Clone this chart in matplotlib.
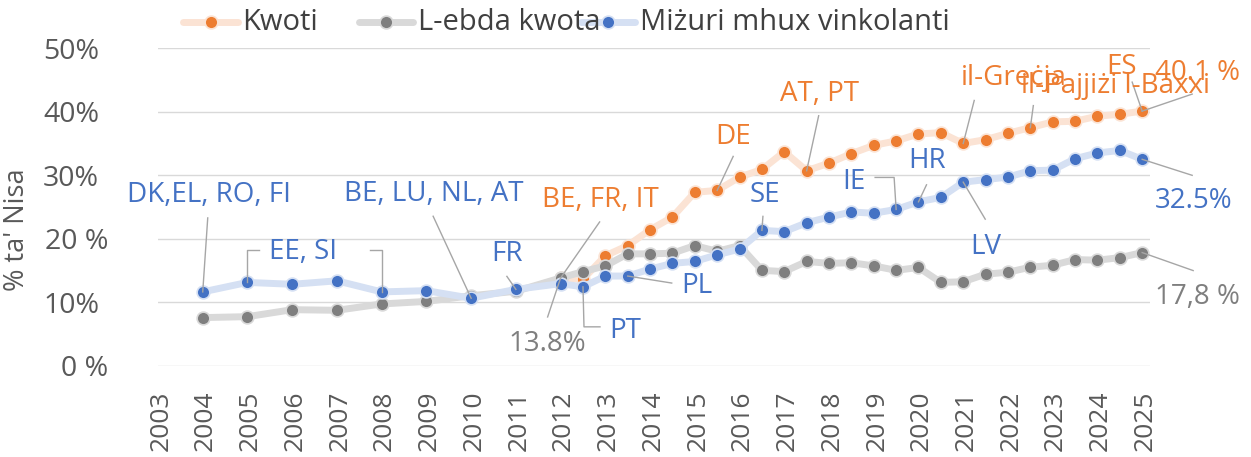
import matplotlib
matplotlib.use("Agg")
import matplotlib.pyplot as plt
import matplotlib.transforms as mtransforms
from matplotlib.lines import Line2D

plt.rcParams['font.family'] = ['Open Sans', 'DejaVu Sans']

# ---------------- data ----------------
periods = [2004, 2005, 2006, 2007, 2008, 2009, 2010, 2011, 2012,
           2012.5, 2013, 2013.5, 2014, 2014.5, 2015, 2015.5, 2016, 2016.5,
           2017, 2017.5, 2018, 2018.5, 2019, 2019.5, 2020, 2020.5, 2021,
           2021.5, 2022, 2022.5, 2023, 2023.5, 2024, 2024.5, 2025]
quota_periods = [2012, 2012.5, 2013, 2013.5, 2014, 2014.5, 2015, 2015.5,
                 2016, 2016.5, 2017, 2017.5, 2018, 2018.5, 2019, 2019.5,
                 2020, 2020.5, 2021, 2021.5, 2022, 2022.5, 2023, 2023.5,
                 2024, 2024.5, 2025]

kwoti = [13.8, 13.6, 17.3, 18.9, 21.4, 23.4, 27.3, 27.6, 29.7, 30.9, 33.7,
         30.7, 31.9, 33.4, 34.7, 35.4, 36.5, 36.7, 35.0, 35.6, 36.6, 37.5,
         38.4, 38.5, 39.3, 39.6, 40.1]
ebda_kwota = [7.55, 7.7, 8.8, 8.7, 9.7, 10.1, 11.0, 11.7, 13.8,
              14.8, 15.7, 17.6, 17.6, 17.7, 18.9, 18.0, 18.9, 15.0, 14.8,
              16.4, 16.1, 16.2, 15.7, 15.0, 15.45, 13.1, 13.2, 14.4, 14.7,
              15.5, 15.8, 16.7, 16.6, 17.0, 17.8]
mizuri = [11.6, 13.1, 12.8, 13.35, 11.6, 11.8, 10.6, 12.0, 12.9,
          12.4, 14.1, 14.1, 15.2, 16.1, 16.4, 17.45, 18.35, 21.3, 21.1,
          22.5, 23.4, 24.2, 24.0, 24.6, 25.8, 26.5, 28.9, 29.3, 29.7, 30.7,
          30.8, 32.6, 33.5, 33.9, 32.5]

series_names = ['Kwoti', 'L-ebda kwota', 'Miżuri mhux vinkolanti']
year_labels = [str(y) for y in range(2003, 2026)]
ytick_values = [0, 10, 20, 30, 40, 50]
ytick_labels = ['0 %', '10%', '20 %', '30%', '40%', '50%']
y_title = "% ta' Nisa"

# ---------------- style ----------------
ORANGE, ORANGE_L = '#ED7D31', '#FBE3D4'
GRAY, GRAY_L = '#7F7F7F', '#D9D9D9'
BLUE, BLUE_L = '#4472C4', '#D5E0F3'
TXT = '#595959'
LEADER = '#A6A6A6'

W, H, DPI = 1251, 457, 100
fig = plt.figure(figsize=(W / DPI, H / DPI), dpi=DPI)
ax = fig.add_axes([158 / W, (H - 365.5) / H, (1150 - 158) / W, (365.5 - 48.3) / H])

series = {
    'orange': (quota_periods, kwoti, ORANGE, ORANGE_L, 3),
    'gray': (periods, ebda_kwota, GRAY, GRAY_L, 4),
    'blue': (periods, mizuri, BLUE, BLUE_L, 5),
}
LW = 5.0
MS = 9.2
for key, (xs, ys, c, cl, z) in series.items():
    ax.plot(xs, ys, color=cl, lw=LW, solid_capstyle='round', zorder=z)
    ax.plot(xs, ys, ls='none', marker='o', ms=MS, mfc=c, mec=cl, mew=1.2, zorder=z + 0.1)

ax.set_xlim(2003.18, 2025.175)
ax.set_ylim(0, 50)
for s in ax.spines.values():
    s.set_visible(False)
ax.set_yticks(ytick_values)
ax.set_yticklabels(ytick_labels)
ax.yaxis.grid(True, color=GRAY_L, lw=1.0)
ax.set_axisbelow(True)
ax.tick_params(axis='y', length=0, pad=36, labelsize=20.5, labelcolor=TXT)
for lab in ax.get_yticklabels():
    if ' ' not in lab.get_text():
        lab.set_transform(lab.get_transform() + mtransforms.Affine2D().translate(-9, 0))

ax.set_xticks(list(range(2003, 2026)))
ax.set_xticklabels(year_labels, rotation=90, ha='center', va='top')
ax.tick_params(axis='x', length=0, pad=18, labelsize=19, labelcolor=TXT)
for lab in ax.get_xticklabels():
    lab.set_transform(lab.get_transform() + mtransforms.Affine2D().translate(3, 0))

ax.set_ylabel(y_title, fontsize=19.5, color=TXT, va='center')
ax.yaxis.set_label_coords((17 - 158) / 992, (365.5 - 230) / 317.2)


def lookup(key, period):
    xs, ys = series[key][0], series[key][1]
    return period, ys[xs.index(period)]


def anchor_trans(key, period):
    x, y = lookup(key, period)
    return mtransforms.Affine2D() + mtransforms.ScaledTranslation(x, y, ax.transData)


# labels: text, series, period, colour, (dx, dy) in pixels (dy downward)
labels = [
    ('DK,EL, RO, FI', 'blue', 2004, BLUE, (6, -97)),
    ('EE, SI', 'blue', 2005, BLUE, (56, -30)),
    ('BE, LU, NL, AT', 'blue', 2010, BLUE, (-37, -104)),
    ('FR', 'blue', 2011, BLUE, (-9, -35)),
    ('BE, FR, IT', 'orange', 2012, ORANGE, (40, -78)),
    ('13.8%', 'gray', 2012, GRAY, (-13, 66)),
    ('PT', 'blue', 2012.5, BLUE, (42, 44)),
    ('PL', 'blue', 2013.5, BLUE, (69, 10)),
    ('DE', 'orange', 2015.5, ORANGE, (16, -53)),
    ('AT, PT', 'orange', 2017.5, ORANGE, (13, -77)),
    ('SE', 'blue', 2016.5, BLUE, (3, -35)),
    ('IE', 'blue', 2019.5, BLUE, (-42, -27)),
    ('HR', 'blue', 2020, BLUE, (9, -41)),
    ('LV', 'blue', 2021, BLUE, (23, 65)),
    ('il-Greċja', 'orange', 2021, ORANGE, (51, -65)),
    ('il-Pajjiżi l-Baxxi', 'orange', 2022.5, ORANGE, (85, -42)),
    ('ES', 'orange', 2025, ORANGE, (-21, -44)),
    ('40.1 %', 'orange', 2025, ORANGE, (55, -38)),
    ('32.5%', 'blue', 2025, BLUE, (51, 42)),
    ('17,8 %', 'gray', 2025, GRAY, (55, 44)),
]
# leader lines: series, period, polyline offsets in pixels (dy downward)
leaders = [
    ('blue', 2004, [(0, 0), (5, -74)]),
    ('blue', 2005, [(0, 0), (0, -32), (12, -32)]),
    ('blue', 2008, [(0, 0), (0, -42), (-12, -42)]),
    ('blue', 2010, [(0, 0), (-38, -82)]),
    ('blue', 2011, [(0, 0), (-9, -13)]),
    ('orange', 2012, [(0, 0), (39, -56)]),
    ('gray', 2012, [(0, 0), (-13, 39)]),
    ('blue', 2012.5, [(0, 0), (1, 40), (17, 40)]),
    ('blue', 2013.5, [(0, 0), (44, 7)]),
    ('orange', 2015.5, [(0, 0), (16, -34)]),
    ('orange', 2017.5, [(0, 0), (12, -55)]),
    ('blue', 2016.5, [(0, 0), (1, -14)]),
    ('blue', 2019.5, [(0, 0), (-2, -32), (-21, -32)]),
    ('blue', 2020, [(0, 0), (8, -17)]),
    ('blue', 2021, [(0, 0), (22, 37)]),
    ('orange', 2021, [(0, 0), (11, -43)]),
    ('orange', 2022.5, [(0, 0), (3, -22)]),
    ('orange', 2025, [(0, 0), (-10, -29)]),
    ('orange', 2025, [(0, 0), (50, -17)]),
    ('blue', 2025, [(0, 0), (50, 16)]),
    ('gray', 2025, [(0, 0), (51, 18)]),
]

for key, period, path in leaders:
    xs = [p[0] for p in path]
    ys = [-p[1] for p in path]
    ax.add_line(Line2D(xs, ys, color=LEADER, lw=1.0, transform=anchor_trans(key, period),
                       zorder=7, clip_on=False))

for text, key, period, col, (dx, dy) in labels:
    ax.text(dx, -dy, text, color=col, fontsize=20, ha='center', va='center',
            transform=anchor_trans(key, period), zorder=8, clip_on=False)

# ---------------- legend (top) ----------------
legend_items = [
    (series_names[0], ORANGE, ORANGE_L, 183, 238, 242),
    (series_names[1], GRAY, GRAY_L, 359, 413, 418),
    (series_names[2], BLUE, BLUE_L, 581, 635, 640),
]
ly = H - 22
for name, c, cl, x0, x1, tx in legend_items:
    fig.add_artist(Line2D([x0, x1], [ly, ly], color=cl, lw=LW, solid_capstyle='round',
                          transform=mtransforms.IdentityTransform(), zorder=1))
    fig.add_artist(Line2D([(x0 + x1) / 2], [ly], marker='o', ms=MS, mfc=c, mec=cl, mew=1.2,
                          transform=mtransforms.IdentityTransform(), zorder=2))
    fig.text(tx / W, ly / H, name, color='#404040', fontsize=21, ha='left', va='center', zorder=3)

fig.savefig('out.png', dpi=DPI)
